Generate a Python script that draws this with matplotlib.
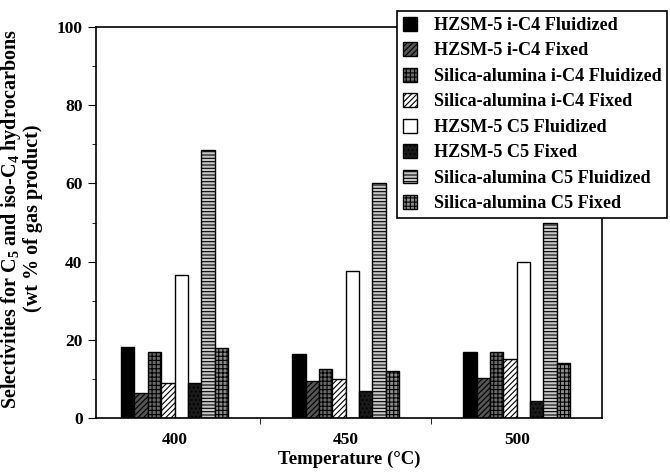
import matplotlib
matplotlib.use('Agg')
import matplotlib.pyplot as plt
import numpy as np

plt.rcParams['font.family'] = 'Liberation Serif'
plt.rcParams['font.weight'] = 'bold'
plt.rcParams['mathtext.fontset'] = 'custom'
plt.rcParams['mathtext.rm'] = 'Liberation Serif:bold'
plt.rcParams['mathtext.bf'] = 'Liberation Serif:bold'
plt.rcParams['hatch.linewidth'] = 0.8

temps = ['400', '450', '500']
series = ['HZSM-5 i-C4 Fluidized', 'HZSM-5 i-C4 Fixed',
          'Silica-alumina i-C4 Fluidized', 'Silica-alumina i-C4 Fixed',
          'HZSM-5 C5 Fluidized', 'HZSM-5 C5 Fixed',
          'Silica-alumina C5 Fluidized', 'Silica-alumina C5 Fixed']
hzsm_ic4_fluid = [18.2, 16.5, 17.0]
hzsm_ic4_fixed = [6.5, 9.5, 10.3]
sa_ic4_fluid = [17.0, 12.5, 17.0]
sa_ic4_fixed = [9.0, 10.0, 15.0]
hzsm_c5_fluid = [36.6, 37.5, 40.0]
hzsm_c5_fixed = [9.0, 7.0, 4.5]
sa_c5_fluid = [68.5, 60.0, 49.8]
sa_c5_fixed = [18.0, 12.0, 14.0]
values = [hzsm_ic4_fluid, hzsm_ic4_fixed, sa_ic4_fluid, sa_ic4_fixed,
          hzsm_c5_fluid, hzsm_c5_fixed, sa_c5_fluid, sa_c5_fixed]

# fill colour, hatch
styles = [('black', ''), ('#555555', '//////'), ('#6a6a6a', '++++'),
          ('white', '//////'), ('white', ''), ('#1a1a1a', '....'),
          ('#c8c8c8', '-----'), ('#8a8a8a', '++++')]

fig = plt.figure(figsize=(6.7, 4.72), dpi=100)
ax = fig.add_axes([0.143, 0.114, 0.756, 0.829])

x = np.arange(len(temps))
w = 0.078
for i, (vals, name, (fc, h)) in enumerate(zip(values, series, styles)):
    ax.bar(x + (i - 3.5) * w, vals, w, color=fc, hatch=h, edgecolor='black',
           linewidth=1.0, label=name)

ax.set_ylim(0, 100)
ax.set_xlim(-0.46, 2.5)
ax.set_yticks([0, 20, 40, 60, 80, 100])
ax.set_yticks([10, 30, 50, 70, 90], minor=True)
ax.set_xticks(x)
ax.set_xticklabels(temps)
ax.set_xticks([0.5, 1.5], minor=True)
ax.tick_params(axis='x', which='major', length=0, labelsize=12.5, pad=10)
ax.tick_params(axis='x', which='minor', length=4, direction='out')
ax.tick_params(axis='y', which='major', length=6, labelsize=12.5)
ax.tick_params(axis='y', which='minor', length=3)
for lab in ax.get_xticklabels() + ax.get_yticklabels():
    lab.set_fontweight('bold')
for s in ax.spines.values():
    s.set_linewidth(1.2)

ax.set_xlabel('Temperature (\u00b0C)', fontsize=13.5, fontweight='bold', labelpad=2)
ax.set_ylabel('Selectivities for C$_5$ and iso-C$_4$ hydrocarbons\n(wt % of gas product)',
              fontsize=14.5, fontweight='bold', linespacing=1.0)
ax.yaxis.set_label_coords(-0.105, 0.51)

leg = ax.legend(loc='upper left', bbox_to_anchor=(0.595, 1.04), frameon=True,
                fancybox=False, edgecolor='black', framealpha=1,
                prop={'family': 'Liberation Serif', 'weight': 'bold', 'size': 13.1},
                handlelength=0.8, handleheight=0.8, handletextpad=0.9,
                labelspacing=0.45, borderpad=0.3, borderaxespad=0)
leg.get_frame().set_linewidth(1.2)

fig.savefig('out.png', dpi=100)
